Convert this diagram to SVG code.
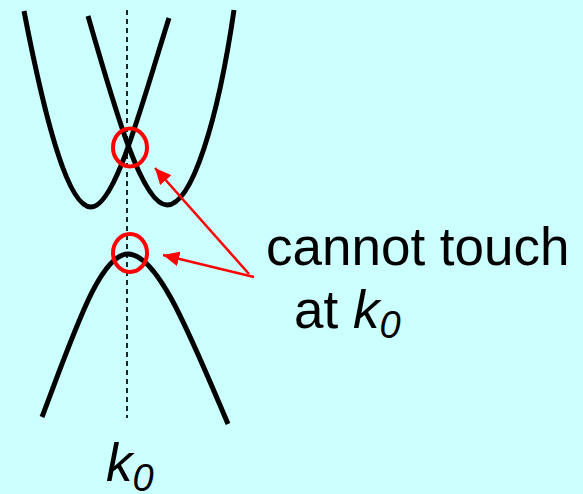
<svg xmlns="http://www.w3.org/2000/svg" width="583" height="494" viewBox="0 0 583 494">
<defs>
<style>
.band{fill:none;stroke:#000;stroke-width:5;stroke-linecap:butt}
.ring{fill:none;stroke:#f00;stroke-width:4}
.arr{fill:none;stroke:#f00;stroke-width:2.5}
.lbl{font-family:"Liberation Sans",Arial,sans-serif;font-size:53px;fill:#000}
.it{font-style:italic}
</style>
<marker id="ah" markerWidth="6.5" markerHeight="6" refX="6.5" refY="3" orient="auto" markerUnits="strokeWidth" viewBox="0 0 6.5 6">
<path d="M0,0 L6.5,3 L0,6 Z" fill="#f00"/>
</marker>
</defs>
<rect width="583" height="494" fill="#CCFFFF"/>
<g id="axis">
<line x1="127" y1="10" x2="127" y2="418" stroke="#000" stroke-width="1.7" stroke-dasharray="5,4"/>
</g>
<g id="band-left">
<path class="band" d="M24,11 C45,120 68,207 91,207 C115,207 140,110 169,18"/>
</g>
<g id="band-right">
<path class="band" d="M88,16 C115,110 142,205 167,205 C192,205 218,120 234,10"/>
</g>
<g id="band-lower">
<path class="band" d="M42,417 C75,330 100,254 128,254 C158,254 190,335 228,424"/>
</g>
<g id="ring-top">
<ellipse class="ring" cx="130" cy="147.5" rx="17" ry="19"/>
</g>
<g id="ring-bottom">
<ellipse class="ring" cx="130" cy="253" rx="17" ry="19"/>
</g>
<g id="connectors">
<line class="arr" x1="249" y1="274" x2="155" y2="168" marker-end="url(#ah)"/>
<line class="arr" x1="254" y1="277" x2="163" y2="255" marker-end="url(#ah)"/>
</g>
<g id="label">
<text class="lbl" x="266" y="265">cannot touch</text>
<text class="lbl" x="294" y="328">at <tspan class="it">k</tspan><tspan class="it" font-size="38" dy="10">0</tspan></text>
</g>
<g id="k0">
<text class="lbl" x="106" y="481"><tspan class="it">k</tspan><tspan class="it" font-size="38" dy="10">0</tspan></text>
</g>
</svg>
